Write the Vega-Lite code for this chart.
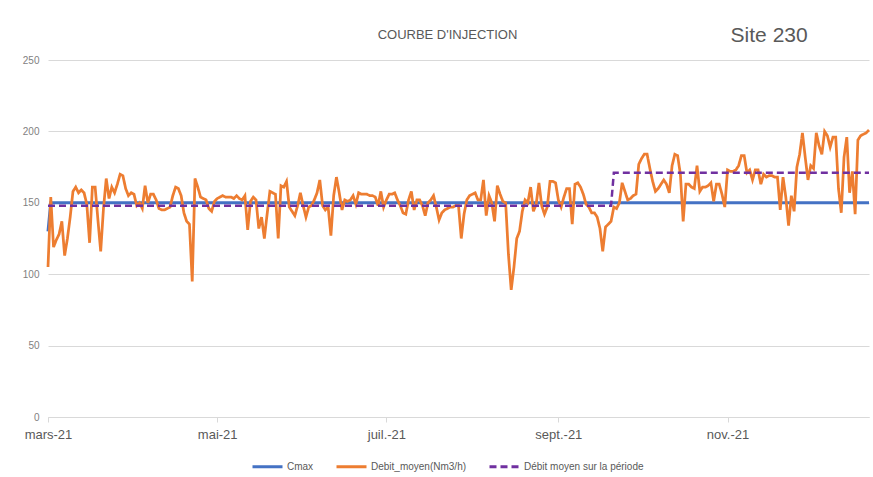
{
  "$schema": "https://vega.github.io/schema/vega-lite/v6.json",
  "width": 821,
  "height": 357,
  "autosize": {"type": "none"},
  "padding": {"left": 48, "top": 60, "right": 4, "bottom": 60},
  "background": "white",
  "title": {"text": "COURBE D'INJECTION", "anchor": "middle", "frame": "group", "dx": -11, "offset": -17, "fontSize": 13, "fontWeight": "normal", "font": "Liberation Sans", "color": "#595959"},
  "datasets": {
    "cmax": [
      {"date": "2021-03-01", "value": 130},
      {"date": "2021-03-02", "value": 150},
      {"date": "2021-12-22", "value": 150}
    ],
    "moyen": [
      {"date": "2021-03-01", "value": 148},
      {"date": "2021-09-20", "value": 148},
      {"date": "2021-09-21", "value": 171},
      {"date": "2021-12-22", "value": 171}
    ],
    "debit": [
      {"date":"2021-03-01","value":105},{"date":"2021-03-02","value":154},{"date":"2021-03-03","value":119},{"date":"2021-03-04","value":124},{"date":"2021-03-05","value":128},{"date":"2021-03-06","value":137},{"date":"2021-03-07","value":113},{"date":"2021-03-08","value":125},{"date":"2021-03-09","value":140},{"date":"2021-03-10","value":158},
      {"date":"2021-03-11","value":161},{"date":"2021-03-12","value":157},{"date":"2021-03-13","value":159},{"date":"2021-03-14","value":157},{"date":"2021-03-15","value":149},{"date":"2021-03-16","value":122},{"date":"2021-03-17","value":161},{"date":"2021-03-18","value":161},{"date":"2021-03-19","value":138},{"date":"2021-03-20","value":116},
      {"date":"2021-03-21","value":146},{"date":"2021-03-22","value":167},{"date":"2021-03-23","value":153},{"date":"2021-03-24","value":161},{"date":"2021-03-25","value":157},{"date":"2021-03-26","value":163},{"date":"2021-03-27","value":170},{"date":"2021-03-28","value":169},{"date":"2021-03-29","value":160},{"date":"2021-03-30","value":155},
      {"date":"2021-03-31","value":157},{"date":"2021-04-01","value":156},{"date":"2021-04-02","value":148},{"date":"2021-04-03","value":150},{"date":"2021-04-04","value":146},{"date":"2021-04-05","value":162},{"date":"2021-04-06","value":150},{"date":"2021-04-07","value":156},{"date":"2021-04-08","value":156},{"date":"2021-04-09","value":152},
      {"date":"2021-04-10","value":146},{"date":"2021-04-11","value":145},{"date":"2021-04-12","value":145},{"date":"2021-04-13","value":146},{"date":"2021-04-14","value":147},{"date":"2021-04-15","value":155},{"date":"2021-04-16","value":161},{"date":"2021-04-17","value":160},{"date":"2021-04-18","value":155},{"date":"2021-04-19","value":143},
      {"date":"2021-04-20","value":137},{"date":"2021-04-21","value":135},{"date":"2021-04-22","value":95},{"date":"2021-04-23","value":167},{"date":"2021-04-24","value":161},{"date":"2021-04-25","value":154},{"date":"2021-04-26","value":153},{"date":"2021-04-27","value":152},{"date":"2021-04-28","value":146},{"date":"2021-04-29","value":144},
      {"date":"2021-04-30","value":151},{"date":"2021-05-01","value":153},{"date":"2021-05-02","value":154},{"date":"2021-05-03","value":155},{"date":"2021-05-04","value":154},{"date":"2021-05-05","value":154},{"date":"2021-05-06","value":154},{"date":"2021-05-07","value":153},{"date":"2021-05-08","value":155},{"date":"2021-05-09","value":153},
      {"date":"2021-05-10","value":152},{"date":"2021-05-11","value":155},{"date":"2021-05-12","value":131},{"date":"2021-05-13","value":151},{"date":"2021-05-14","value":154},{"date":"2021-05-15","value":152},{"date":"2021-05-16","value":132},{"date":"2021-05-17","value":140},{"date":"2021-05-18","value":125},{"date":"2021-05-19","value":142},
      {"date":"2021-05-20","value":158},{"date":"2021-05-21","value":157},{"date":"2021-05-22","value":156},{"date":"2021-05-23","value":125},{"date":"2021-05-24","value":162},{"date":"2021-05-25","value":161},{"date":"2021-05-26","value":165},{"date":"2021-05-27","value":147},{"date":"2021-05-28","value":144},{"date":"2021-05-29","value":141},
      {"date":"2021-05-30","value":148},{"date":"2021-05-31","value":157},{"date":"2021-06-01","value":148},{"date":"2021-06-02","value":140},{"date":"2021-06-03","value":147},{"date":"2021-06-04","value":148},{"date":"2021-06-05","value":152},{"date":"2021-06-06","value":157},{"date":"2021-06-07","value":166},{"date":"2021-06-08","value":148},
      {"date":"2021-06-09","value":145},{"date":"2021-06-10","value":147},{"date":"2021-06-11","value":127},{"date":"2021-06-12","value":155},{"date":"2021-06-13","value":168},{"date":"2021-06-14","value":157},{"date":"2021-06-15","value":145},{"date":"2021-06-16","value":152},{"date":"2021-06-17","value":151},{"date":"2021-06-18","value":152},
      {"date":"2021-06-19","value":155},{"date":"2021-06-20","value":149},{"date":"2021-06-21","value":157},{"date":"2021-06-22","value":156},{"date":"2021-06-23","value":156},{"date":"2021-06-24","value":156},{"date":"2021-06-25","value":155},{"date":"2021-06-26","value":155},{"date":"2021-06-27","value":154},{"date":"2021-06-28","value":148},
      {"date":"2021-06-29","value":158},{"date":"2021-06-30","value":147},{"date":"2021-07-01","value":152},{"date":"2021-07-02","value":156},{"date":"2021-07-03","value":156},{"date":"2021-07-04","value":157},{"date":"2021-07-05","value":152},{"date":"2021-07-06","value":148},{"date":"2021-07-07","value":143},{"date":"2021-07-08","value":142},
      {"date":"2021-07-09","value":152},{"date":"2021-07-10","value":158},{"date":"2021-07-11","value":145},{"date":"2021-07-12","value":152},{"date":"2021-07-13","value":152},{"date":"2021-07-14","value":148},{"date":"2021-07-15","value":141},{"date":"2021-07-16","value":150},{"date":"2021-07-17","value":152},{"date":"2021-07-18","value":155},
      {"date":"2021-07-19","value":147},{"date":"2021-07-20","value":138},{"date":"2021-07-21","value":143},{"date":"2021-07-22","value":145},{"date":"2021-07-23","value":146},{"date":"2021-07-24","value":147},{"date":"2021-07-25","value":147},{"date":"2021-07-26","value":148},{"date":"2021-07-27","value":148},{"date":"2021-07-28","value":125},
      {"date":"2021-07-29","value":142},{"date":"2021-07-30","value":152},{"date":"2021-07-31","value":155},{"date":"2021-08-01","value":156},{"date":"2021-08-02","value":157},{"date":"2021-08-03","value":152},{"date":"2021-08-04","value":152},{"date":"2021-08-05","value":166},{"date":"2021-08-06","value":141},{"date":"2021-08-07","value":155},
      {"date":"2021-08-08","value":150},{"date":"2021-08-09","value":137},{"date":"2021-08-10","value":162},{"date":"2021-08-11","value":156},{"date":"2021-08-12","value":151},{"date":"2021-08-13","value":150},{"date":"2021-08-14","value":114},{"date":"2021-08-15","value":89},{"date":"2021-08-16","value":105},{"date":"2021-08-17","value":125},
      {"date":"2021-08-18","value":130},{"date":"2021-08-19","value":144},{"date":"2021-08-20","value":152},{"date":"2021-08-21","value":150},{"date":"2021-08-22","value":161},{"date":"2021-08-23","value":144},{"date":"2021-08-24","value":149},{"date":"2021-08-25","value":164},{"date":"2021-08-26","value":148},{"date":"2021-08-27","value":142},
      {"date":"2021-08-28","value":147},{"date":"2021-08-29","value":165},{"date":"2021-08-30","value":165},{"date":"2021-08-31","value":164},{"date":"2021-09-01","value":152},{"date":"2021-09-02","value":147},{"date":"2021-09-03","value":154},{"date":"2021-09-04","value":160},{"date":"2021-09-05","value":160},{"date":"2021-09-06","value":135},
      {"date":"2021-09-07","value":163},{"date":"2021-09-08","value":164},{"date":"2021-09-09","value":161},{"date":"2021-09-10","value":156},{"date":"2021-09-11","value":149},{"date":"2021-09-12","value":147},{"date":"2021-09-13","value":143},{"date":"2021-09-14","value":143},{"date":"2021-09-15","value":140},{"date":"2021-09-16","value":132},
      {"date":"2021-09-17","value":116},{"date":"2021-09-18","value":133},{"date":"2021-09-19","value":135},{"date":"2021-09-20","value":137},{"date":"2021-09-21","value":147},{"date":"2021-09-22","value":146},{"date":"2021-09-23","value":150},{"date":"2021-09-24","value":164},{"date":"2021-09-25","value":158},{"date":"2021-09-26","value":152},
      {"date":"2021-09-27","value":153},{"date":"2021-09-28","value":155},{"date":"2021-09-29","value":156},{"date":"2021-09-30","value":177},{"date":"2021-10-01","value":181},{"date":"2021-10-02","value":184},{"date":"2021-10-03","value":184},{"date":"2021-10-04","value":174},{"date":"2021-10-05","value":165},{"date":"2021-10-06","value":158},
      {"date":"2021-10-07","value":160},{"date":"2021-10-08","value":163},{"date":"2021-10-09","value":166},{"date":"2021-10-10","value":163},{"date":"2021-10-11","value":157},{"date":"2021-10-12","value":176},{"date":"2021-10-13","value":184},{"date":"2021-10-14","value":183},{"date":"2021-10-15","value":170},{"date":"2021-10-16","value":137},
      {"date":"2021-10-17","value":163},{"date":"2021-10-18","value":163},{"date":"2021-10-19","value":161},{"date":"2021-10-20","value":160},{"date":"2021-10-21","value":176},{"date":"2021-10-22","value":158},{"date":"2021-10-23","value":161},{"date":"2021-10-24","value":161},{"date":"2021-10-25","value":162},{"date":"2021-10-26","value":164},
      {"date":"2021-10-27","value":151},{"date":"2021-10-28","value":163},{"date":"2021-10-29","value":163},{"date":"2021-10-30","value":156},{"date":"2021-10-31","value":147},{"date":"2021-11-01","value":173},{"date":"2021-11-02","value":172},{"date":"2021-11-03","value":172},{"date":"2021-11-04","value":173},{"date":"2021-11-05","value":176},
      {"date":"2021-11-06","value":183},{"date":"2021-11-07","value":183},{"date":"2021-11-08","value":171},{"date":"2021-11-09","value":173},{"date":"2021-11-10","value":166},{"date":"2021-11-11","value":173},{"date":"2021-11-12","value":173},{"date":"2021-11-13","value":163},{"date":"2021-11-14","value":170},{"date":"2021-11-15","value":168},
      {"date":"2021-11-16","value":169},{"date":"2021-11-17","value":169},{"date":"2021-11-18","value":168},{"date":"2021-11-19","value":168},{"date":"2021-11-20","value":145},{"date":"2021-11-21","value":168},{"date":"2021-11-22","value":154},{"date":"2021-11-23","value":134},{"date":"2021-11-24","value":155},{"date":"2021-11-25","value":144},
      {"date":"2021-11-26","value":175},{"date":"2021-11-27","value":184},{"date":"2021-11-28","value":199},{"date":"2021-11-29","value":182},{"date":"2021-11-30","value":166},{"date":"2021-12-01","value":176},{"date":"2021-12-02","value":174},{"date":"2021-12-03","value":199},{"date":"2021-12-04","value":190},{"date":"2021-12-05","value":184},
      {"date":"2021-12-06","value":200},{"date":"2021-12-07","value":197},{"date":"2021-12-08","value":189},{"date":"2021-12-09","value":196},{"date":"2021-12-10","value":196},{"date":"2021-12-11","value":160},{"date":"2021-12-12","value":143},{"date":"2021-12-13","value":182},{"date":"2021-12-14","value":196},{"date":"2021-12-15","value":157},
      {"date":"2021-12-16","value":172},{"date":"2021-12-17","value":142},{"date":"2021-12-18","value":194},{"date":"2021-12-19","value":197},{"date":"2021-12-20","value":198},{"date":"2021-12-21","value":199},{"date":"2021-12-22","value":201}
    ]
  },
  "layer": [
    {
      "data": {"name": "cmax"},
      "mark": {"type": "line", "strokeWidth": 3},
      "encoding": {
        "x": {
          "field": "date", "type": "temporal", "title": null,
          "scale": {"type": "utc", "domain": [{"year": 2021, "month": 3, "date": 1, "utc": true}, {"year": 2021, "month": 12, "date": 22, "utc": true}]},
          "axis": {
            "values": [{"year": 2021, "month": 3, "date": 1, "utc": true}, {"year": 2021, "month": 5, "date": 1, "utc": true}, {"year": 2021, "month": 7, "date": 1, "utc": true}, {"year": 2021, "month": 9, "date": 1, "utc": true}, {"year": 2021, "month": 11, "date": 1, "utc": true}],
            "labelExpr": "['janv.','févr.','mars','avr.','mai','juin','juil.','août','sept.','oct.','nov.','déc.'][utcmonth(datum.value)] + '-' + utcFormat(datum.value, '%y')",
            "grid": false, "domainColor": "#d9d9d9", "tickColor": "#d9d9d9", "tickSize": 5,
            "labelFontSize": 13, "labelColor": "#595959", "labelPadding": 6, "labelFlush": false, "labelOverlap": false
          }
        },
        "y": {
          "field": "value", "type": "quantitative", "title": null,
          "scale": {"domain": [0, 250]},
          "axis": {"values": [0, 50, 100, 150, 200, 250], "domain": false, "ticks": false, "grid": true, "gridColor": "#d9d9d9", "labelFontSize": 10, "labelColor": "#7f7f7f", "labelPadding": 9}
        },
        "color": {"datum": "Cmax", "type": "nominal",
          "scale": {"domain": ["Cmax", "Debit_moyen(Nm3/h)", "Débit moyen sur la période"], "range": ["#4472C4", "#ED7D31", "#7030A0"]},
          "legend": {"orient": "none", "legendX": 203, "legendY": 390, "direction": "horizontal", "title": null, "symbolType": "stroke", "symbolSize": 900, "symbolStrokeWidth": 3, "labelFontSize": 10, "labelColor": "#595959", "columnPadding": 16, "labelOffset": 3}},
        "strokeDash": {"datum": "Cmax", "type": "nominal",
          "scale": {"domain": ["Cmax", "Debit_moyen(Nm3/h)", "Débit moyen sur la période"], "range": [[1, 0], [1, 0], [7, 4]]},
          "legend": {"orient": "none", "legendX": 203, "legendY": 390, "direction": "horizontal", "title": null, "symbolType": "stroke", "symbolSize": 900, "symbolStrokeWidth": 3, "labelFontSize": 10, "labelColor": "#595959", "columnPadding": 16, "labelOffset": 3}}
      }
    },
    {
      "data": {"name": "debit"},
      "mark": {"type": "line", "strokeWidth": 2.75},
      "encoding": {
        "x": {"field": "date", "type": "temporal", "title": null, "scale": {"type": "utc", "domain": [{"year": 2021, "month": 3, "date": 1, "utc": true}, {"year": 2021, "month": 12, "date": 22, "utc": true}]}},
        "y": {"field": "value", "type": "quantitative", "title": null, "scale": {"domain": [0, 250]}},
        "color": {"datum": "Debit_moyen(Nm3/h)", "type": "nominal"},
        "strokeDash": {"datum": "Debit_moyen(Nm3/h)", "type": "nominal"}
      }
    },
    {
      "data": {"name": "moyen"},
      "mark": {"type": "line", "strokeWidth": 2.5},
      "encoding": {
        "x": {"field": "date", "type": "temporal", "title": null, "scale": {"type": "utc", "domain": [{"year": 2021, "month": 3, "date": 1, "utc": true}, {"year": 2021, "month": 12, "date": 22, "utc": true}]}},
        "y": {"field": "value", "type": "quantitative", "title": null, "scale": {"domain": [0, 250]}},
        "color": {"datum": "Débit moyen sur la période", "type": "nominal"},
        "strokeDash": {"datum": "Débit moyen sur la période", "type": "nominal"}
      }
    },
    {
      "data": {"values": [{"label": "Site 230"}]},
      "mark": {"type": "text", "fontSize": 21, "color": "#595959", "align": "center", "baseline": "middle", "font": "Liberation Sans"},
      "encoding": {
        "x": {"datum": {"year": 2021, "month": 11, "date": 16, "utc": true}, "type": "temporal", "title": null, "scale": {"type": "utc", "domain": [{"year": 2021, "month": 3, "date": 1, "utc": true}, {"year": 2021, "month": 12, "date": 22, "utc": true}]}},
        "y": {"datum": 267, "type": "quantitative", "title": null, "scale": {"domain": [0, 250]}},
        "text": {"field": "label"}
      }
    }
  ],
  "config": {
    "font": "Liberation Sans",
    "view": {"stroke": null}
  }
}
